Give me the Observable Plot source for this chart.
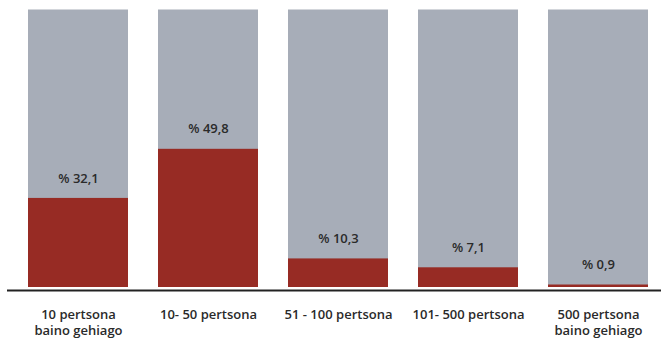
<!DOCTYPE html>
<html>
<head>
<meta charset="utf-8">
<script src="https://cdn.jsdelivr.net/npm/d3@7"></script>
<script src="https://cdn.jsdelivr.net/npm/@observablehq/plot@0.6"></script>
<style>
  html, body { margin: 0; padding: 0; background: #fff; }
  #chart svg { display: block; }
</style>
</head>
<body>
<div id="chart"></div>
<script>
const categories = ["10 pertsona\nbaino gehiago", "10- 50 pertsona", "51 - 100 pertsona", "101- 500 pertsona", "500 pertsona\nbaino gehiago"];
const values = [32.1, 49.8, 10.3, 7.1, 0.9];
const totals = [100, 100, 100, 100, 100];

const data = categories.map((c, i) => ({cat: c, value: values[i], total: totals[i]}));
const fmt = v => "% " + v.toFixed(1).replace(".", ",");
const font = "'Open Sans', sans-serif";

const chart = Plot.plot({
  width: 661,
  height: 339,
  marginLeft: 26,
  marginRight: 12,
  marginTop: 9.5,
  marginBottom: 52,
  style: {fontFamily: font, background: "#fff"},
  x: {domain: categories, paddingInner: 0.234, paddingOuter: 0, axis: null},
  y: {domain: [0, 100], axis: null},
  marks: [
    Plot.barY(data, {x: "cat", y: "total", fill: "#a7adb8"}),
    Plot.barY(data, {x: "cat", y: "value", fill: "#972b24"}),
    Plot.ruleY([0], {stroke: "#222", strokeWidth: 2.2, dy: 3, insetLeft: -19, insetRight: -12}),
    Plot.text(data, {x: "cat", y: "value", text: d => fmt(d.value), dy: -20, fontSize: 13, fontWeight: 600, fill: "#2a2a2a"}),
    Plot.text(data, {x: "cat", y: 0, text: "cat", dy: 19, lineAnchor: "top", lineHeight: 1.3, fontSize: 13, fontWeight: 600, fill: "#2a2a2a"})
  ]
});
document.getElementById("chart").appendChild(chart);
</script>
</body>
</html>
